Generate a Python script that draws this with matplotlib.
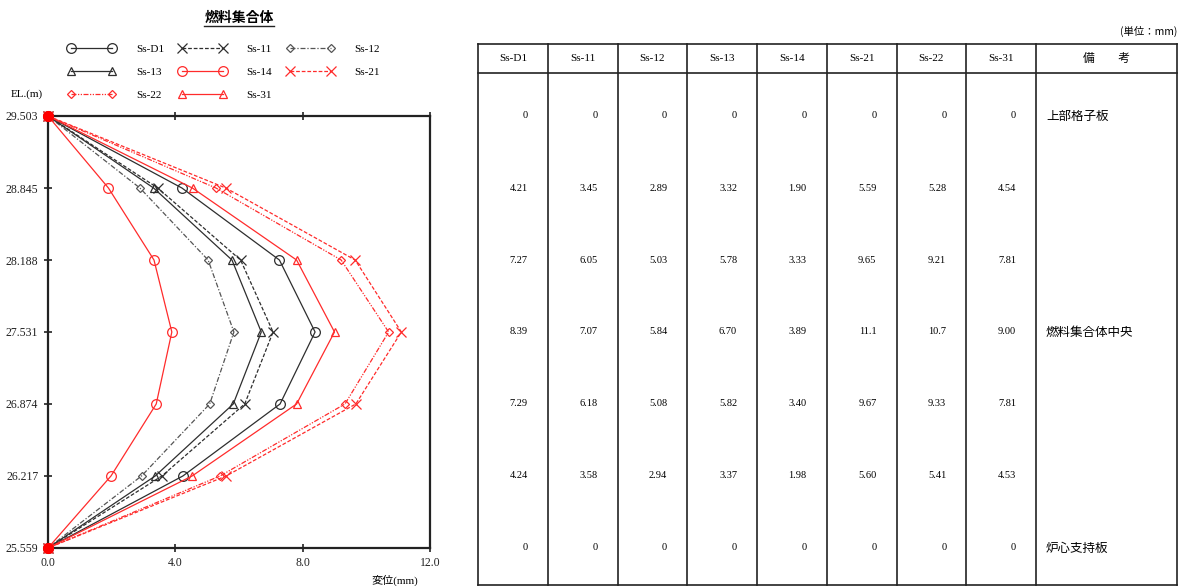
import numpy as np
import matplotlib
matplotlib.use("Agg")
import matplotlib.pyplot as plt
from matplotlib.lines import Line2D

plt.rcParams['font.family'] = ['Liberation Serif', 'Noto Sans CJK JP', 'DejaVu Sans']

# elevations (m) and displacements (mm)
elevations = [29.503, 28.845, 28.188, 27.531, 26.874, 26.217, 25.559]
series_names = ["Ss-D1", "Ss-11", "Ss-12", "Ss-13", "Ss-14", "Ss-21", "Ss-22", "Ss-31"]
ss_d1 = [0, 4.21, 7.27, 8.39, 7.29, 4.24, 0]
ss_11 = [0, 3.45, 6.05, 7.07, 6.18, 3.58, 0]
ss_12 = [0, 2.89, 5.03, 5.84, 5.08, 2.94, 0]
ss_13 = [0, 3.32, 5.78, 6.70, 5.82, 3.37, 0]
ss_14 = [0, 1.90, 3.33, 3.89, 3.40, 1.98, 0]
ss_21 = [0, 5.59, 9.65, 11.1, 9.67, 5.60, 0]
ss_22 = [0, 5.28, 9.21, 10.7, 9.33, 5.41, 0]
ss_31 = [0, 4.54, 7.81, 9.00, 7.81, 4.53, 0]
table_text = [
    ["0", "4.21", "7.27", "8.39", "7.29", "4.24", "0"],
    ["0", "3.45", "6.05", "7.07", "6.18", "3.58", "0"],
    ["0", "2.89", "5.03", "5.84", "5.08", "2.94", "0"],
    ["0", "3.32", "5.78", "6.70", "5.82", "3.37", "0"],
    ["0", "1.90", "3.33", "3.89", "3.40", "1.98", "0"],
    ["0", "5.59", "9.65", "11.1", "9.67", "5.60", "0"],
    ["0", "5.28", "9.21", "10.7", "9.33", "5.41", "0"],
    ["0", "4.54", "7.81", "9.00", "7.81", "4.53", "0"],
]
remarks = ["上部格子板", "", "", "燃料集合体中央", "", "", "炉心支持板"]
x_ticks = [0.0, 4.0, 8.0, 12.0]

BLACK = '#2e2e2e'
RED = '#ff2b2b'

W, H = 1182, 586
fig = plt.figure(figsize=(W / 100, H / 100), dpi=100)

# ---- chart ----
ax = fig.add_axes([48 / W, (H - 548) / H, (430 - 48) / W, (548 - 116) / H])

styles = {
    "Ss-D1": dict(color=BLACK, ls='-', marker='o', ms=7, mfc='none'),
    "Ss-11": dict(color=BLACK, ls=(0, (3, 1.5)), marker='x', ms=7),
    "Ss-12": dict(color='#555555', ls=(0, (4, 1.5, 1, 1.5)), marker='D', ms=4.5, mfc='none'),
    "Ss-13": dict(color=BLACK, ls='-', marker='^', ms=5.5, mfc='none'),
    "Ss-14": dict(color=RED, ls='-', marker='o', ms=7, mfc='none'),
    "Ss-21": dict(color=RED, ls=(0, (3, 1.5)), marker='x', ms=7),
    "Ss-22": dict(color=RED, ls=(0, (4, 1.2, 1, 1.2, 1, 1.2)), marker='D', ms=4.5, mfc='none'),
    "Ss-31": dict(color=RED, ls='-', marker='^', ms=5.5, mfc='none'),
}
series = [ss_d1, ss_11, ss_12, ss_13, ss_14, ss_21, ss_22, ss_31]
handles = {}
for name, vals in zip(series_names, series):
    h, = ax.plot(vals, elevations, lw=0.9, mew=0.9, clip_on=False, label=name, **styles[name])
    handles[name] = h

# red endpoints
ax.plot([ss_31[0], ss_31[-1]], [elevations[0], elevations[-1]], 'o', color='red',
        ms=7, clip_on=False, zorder=6)

ax.set_xlim(0, 12)
ax.set_ylim(elevations[-1], elevations[0])
ax.set_xticks(x_ticks)
ax.set_xticklabels([f"{v:.1f}" for v in x_ticks])
ax.set_yticks(elevations)
ax.set_yticklabels([f"{v:.3f}" for v in elevations])
ax.tick_params(axis='both', labelsize=8.5, direction='inout', length=6, width=1.2,
               top=True, colors='#222222')
ax.tick_params(axis='y', pad=4)
for sp in ax.spines.values():
    sp.set_linewidth(1.6)
    sp.set_color('#222222')

ax.set_xlabel('変位(mm)', loc='right', fontsize=8)
ax.xaxis.set_label_coords(0.97, -0.062)
ax.text(-0.055, 1.051, 'EL.(m)', transform=ax.transAxes, ha='center', va='center', fontsize=8)
title = ax.text(0.5, 1.227, '燃料集合体', transform=ax.transAxes, ha='center', va='center',
                fontsize=10, fontweight='bold', family=['Noto Sans CJK JP'])

order = ["Ss-D1", "Ss-13", "Ss-22", "Ss-11", "Ss-14", "Ss-31", "Ss-12", "Ss-21"]
fig.legend([handles[n] for n in order], order, loc='upper left',
           bbox_to_anchor=(68 / W, 1 - 44 / H), ncol=3, frameon=False, numpoints=2,
           borderpad=0, borderaxespad=0, fontsize=8, handlelength=4.3,
           handletextpad=1.8, columnspacing=1.3, labelspacing=1.2)

# ---- table ----
tax = fig.add_axes([478 / W, (H - 548) / H, (1177 - 478) / W, (548 - 116) / H])
tax.set_ylim(elevations[-1], elevations[0])
col_widths = [69.75] * 8 + [141]
edges = np.concatenate([[0], np.cumsum(col_widths)])
tax.set_xlim(0, edges[-1])
tax.axis('off')

step = elevations[0] - elevations[1]
top = elevations[0] + step
head_bot = elevations[0] + 0.6 * step
bot = elevations[-1] - 0.52 * step

for xe in edges:
    tax.plot([xe, xe], [bot, top], color='#222222', lw=1.2, clip_on=False)
for ye in [top, head_bot, bot]:
    tax.plot([edges[0], edges[-1]], [ye, ye], color='#222222', lw=1.2, clip_on=False)

head_y = (top + head_bot) / 2
for i, name in enumerate(series_names):
    tax.text((edges[i] + edges[i + 1]) / 2, head_y, name, ha='center', va='center', fontsize=8)
tax.text((edges[8] + edges[9]) / 2, head_y, '備\u3000\u3000考', ha='center', va='center',
         fontsize=8.5, family=['Noto Sans CJK JP'])

for i, col in enumerate(table_text):
    for j, txt in enumerate(col):
        tax.text(edges[i + 1] - 20, elevations[j], txt, ha='right', va='center', fontsize=7.5)
for j, txt in enumerate(remarks):
    if txt:
        tax.text(edges[8] + 10, elevations[j], txt, ha='left', va='center', fontsize=9,
                 family=['Noto Sans CJK JP'])
tax.text(edges[-1], top + 0.17 * step, '(単位：mm)', ha='right', va='center', fontsize=7.5,
         family=['Noto Sans CJK JP'])

# underline the title
fig.canvas.draw()
bb = title.get_window_extent()
fig.add_artist(Line2D([bb.x0 / W, bb.x1 / W], [(bb.y0 - 1) / H, (bb.y0 - 1) / H],
                      color='#222222', lw=1.0, transform=fig.transFigure))

fig.savefig('out.png', dpi=100)
